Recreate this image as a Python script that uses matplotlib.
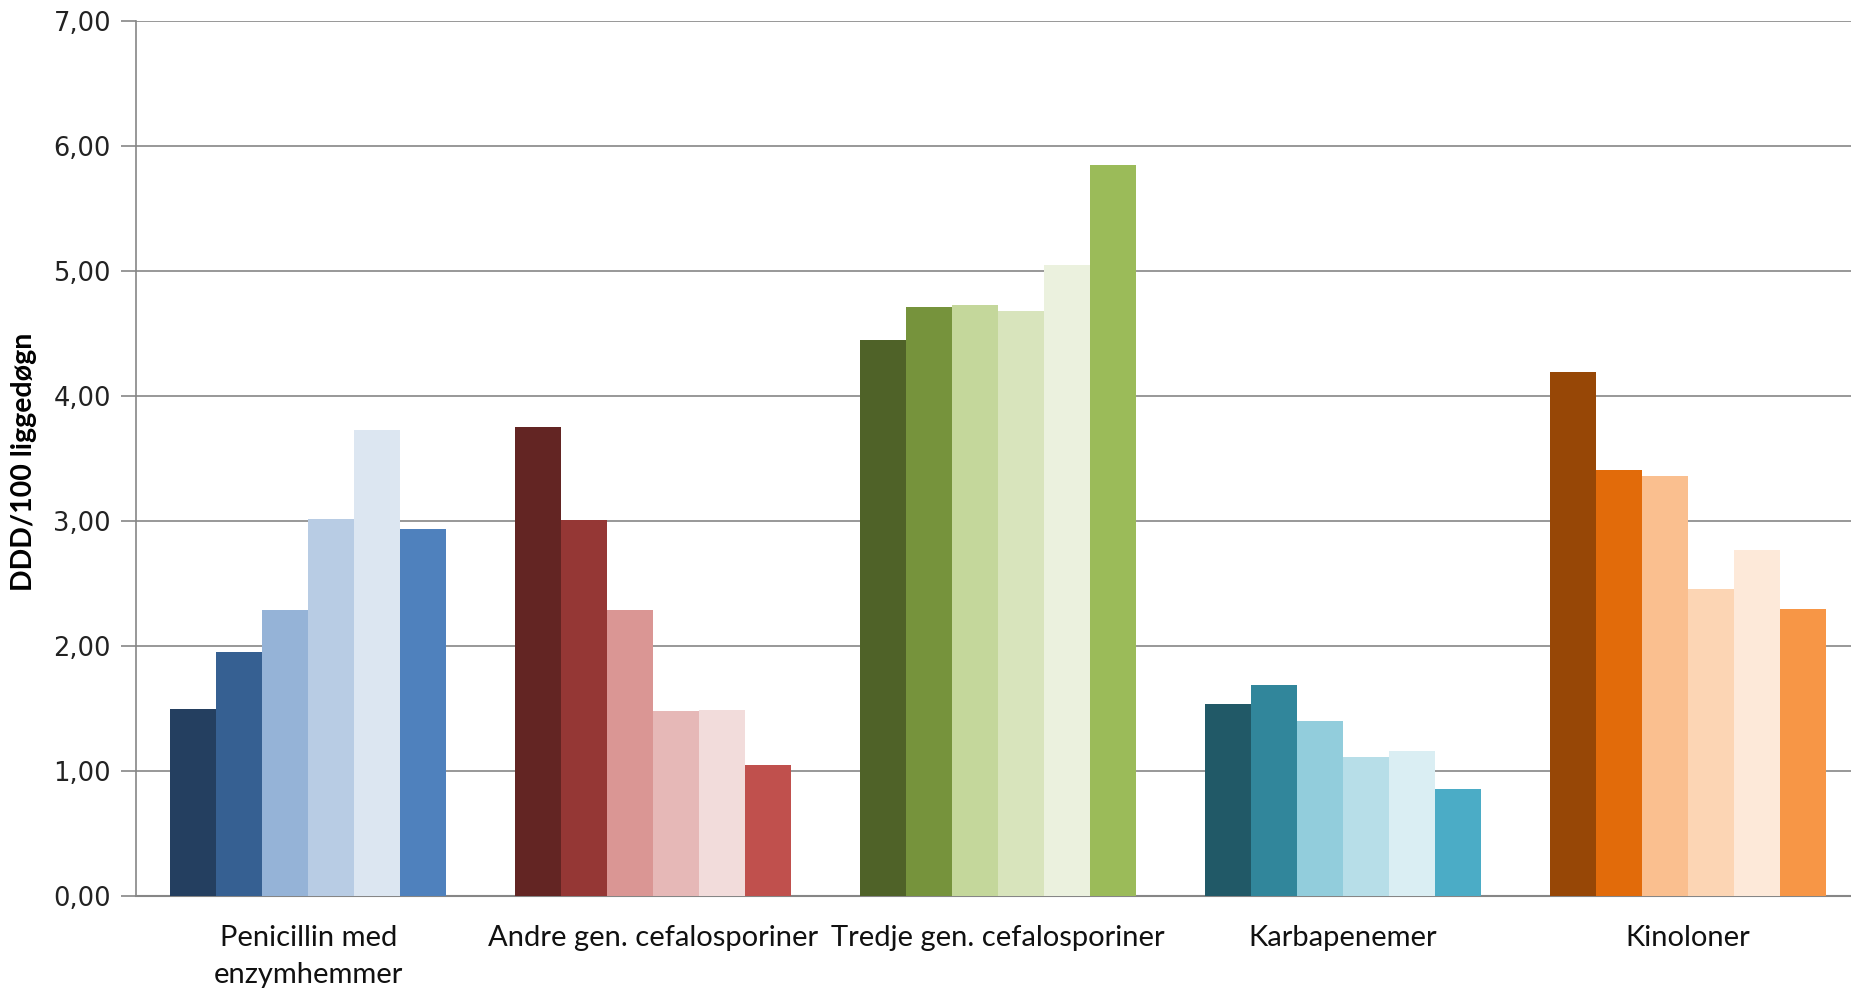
import matplotlib
matplotlib.use("Agg")
import matplotlib.pyplot as plt
import numpy as np

categories = ["Penicillin med\nenzymhemmer", "Andre gen. cefalosporiner",
              "Tredje gen. cefalosporiner", "Karbapenemer", "Kinoloner"]
values = [
    [1.50, 1.95, 2.29, 3.02, 3.73, 2.94],
    [3.75, 3.01, 2.29, 1.48, 1.49, 1.05],
    [4.45, 4.71, 4.73, 4.68, 5.05, 5.85],
    [1.54, 1.69, 1.40, 1.11, 1.16, 0.86],
    [4.19, 3.41, 3.36, 2.46, 2.77, 2.30],
]
colors = [
    ["#243F60", "#366092", "#95B3D7", "#B8CCE4", "#DCE6F1", "#4F81BD"],
    ["#632523", "#953735", "#DA9694", "#E6B8B7", "#F2DCDB", "#C0504D"],
    ["#4F6228", "#76933C", "#C4D79B", "#D8E4BC", "#EBF1DE", "#9BBB59"],
    ["#215967", "#31869B", "#92CDDC", "#B7DEE8", "#DAEEF3", "#4BACC6"],
    ["#974706", "#E26B0A", "#FABF8F", "#FCD5B4", "#FDE9D9", "#F79646"],
]
yticks = [0, 1, 2, 3, 4, 5, 6, 7]
ylabel = "DDD/100 liggedøgn"

fig = plt.figure(figsize=(18.51, 9.90), dpi=100)
ax = fig.add_axes([136/1851, 94/990, (1860 - 136)/1851, (969-94)/990])

nser = 6
w = 1/7.5
x = np.arange(len(categories))
for i, (vals, cols) in enumerate(zip(values, colors)):
    offs = (np.arange(nser) - (nser-1)/2) * w
    ax.bar(i + offs, vals, width=w, color=cols, edgecolor="none", zorder=3)

ax.set_xlim(-0.5, len(categories) - 0.5)
ax.set_ylim(0, 7)
ax.set_yticks(yticks)
ax.set_yticklabels([f"{t:.2f}".replace(".", ",") for t in yticks],
                   fontsize=18.5, family="DejaVu Sans", color="#222222")
ax.set_xticks(x)
ax.set_xticklabels(categories, fontsize=21, family="Lato", color="#111111",
                   linespacing=1.5)
ax.tick_params(axis="x", length=0, pad=21)
ax.tick_params(axis="y", length=11, width=1.2, color="#868686", pad=7)
ax.grid(axis="y", color="#868686", linewidth=1.2, zorder=0)
for s in ["top", "right"]:
    ax.spines[s].set_visible(False)
ax.spines["left"].set_color("#868686")
ax.spines["left"].set_linewidth(1.2)
ax.spines["bottom"].set_color("#868686")
ax.spines["bottom"].set_linewidth(1.5)
fig.text(24/1851, (990-462)/990, ylabel, rotation=90, fontsize=20.5,
         fontweight="bold", family="Lato", ha="center", va="center")

fig.savefig("out.png", dpi=100)
